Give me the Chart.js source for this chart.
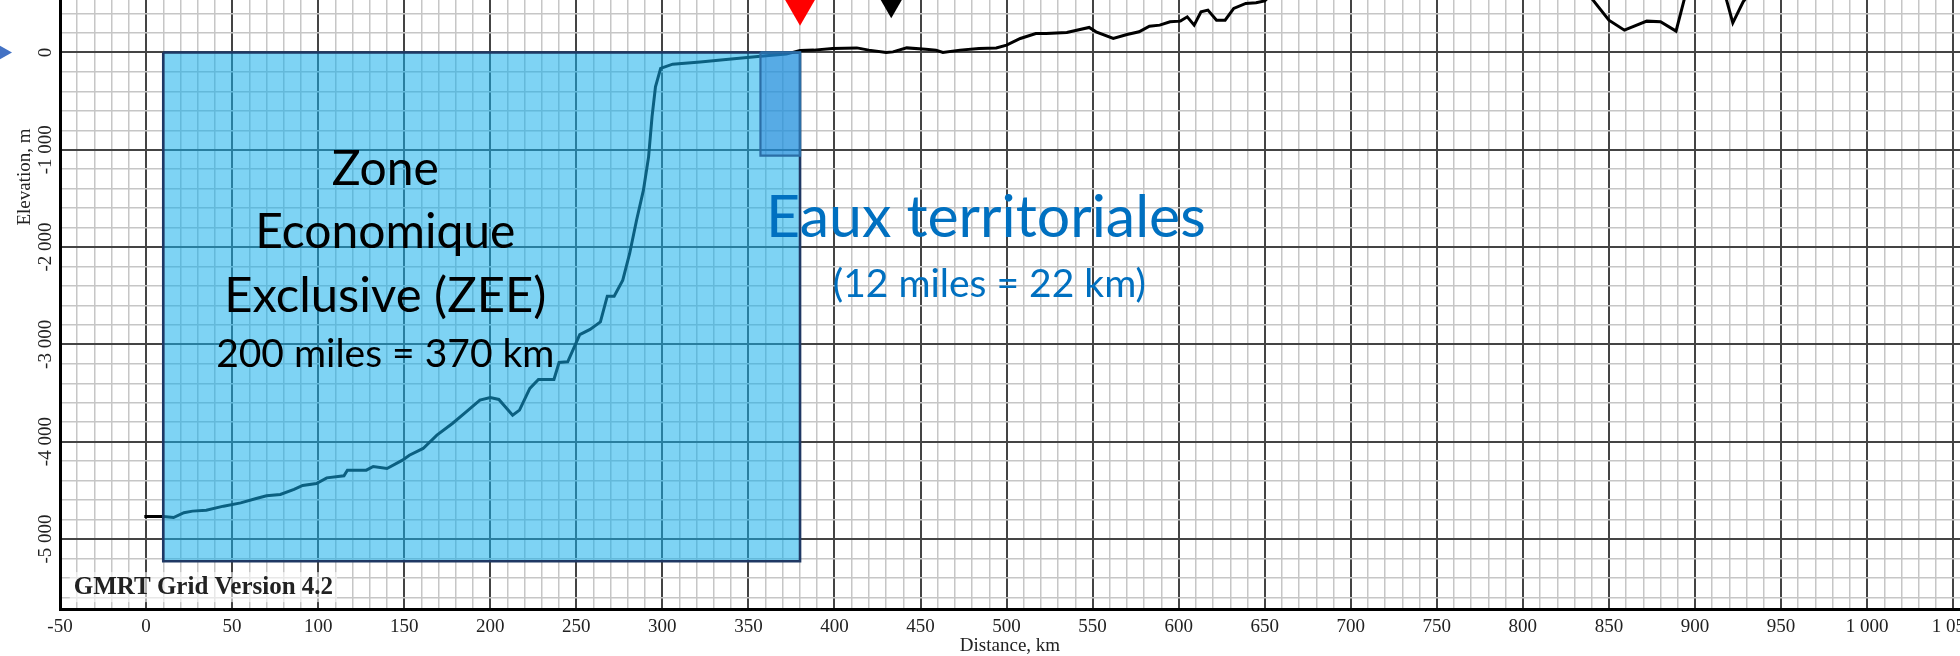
<!DOCTYPE html>
<html>
<head>
<meta charset="utf-8">
<script src="https://cdn.jsdelivr.net/npm/chart.js@4.4.1/dist/chart.umd.min.js"></script>
<style>
html,body{margin:0;padding:0;background:#fff;overflow:hidden;width:1960px;height:656px;}
#wrap{position:absolute;left:0;top:-255px;width:1960px;height:911px;}
</style>
</head>
<body>
<div id="wrap"><canvas id="c" width="1960" height="911"></canvas></div>
<script>
// ---- data (distance in km, elevation in m) ----
const distanceKm = [-1, 10, 16, 22, 27, 35, 45, 55, 64, 70, 78, 86, 91, 99, 105, 115, 117, 128, 132, 140,
  149, 153, 161, 169, 178, 186, 194, 200, 205, 213, 217, 223, 228, 237, 240, 245, 252, 258, 264, 268,
  272, 277, 281, 285, 289, 292, 294, 296, 299, 306, 322, 337, 357, 372, 380, 388, 399, 413, 420, 430,
  434, 442, 453, 459, 463, 473, 484, 494, 500, 508, 517, 523, 535, 548, 552, 562, 570, 577, 583, 589,
  595, 601, 605, 609, 613, 617, 622, 627, 632, 639, 645, 650, 660, 700, 750, 800, 830, 838, 850, 859,
  872, 880, 889, 894, 900, 912, 918, 922, 928, 940, 1000, 1054];
const elevationM = [-4770, -4770, -4780, -4730, -4714, -4704, -4663, -4629, -4584, -4557, -4543, -4491, -4450, -4430, -4372, -4351, -4293, -4293, -4255, -4276,
  -4190, -4139, -4070, -3933, -3813, -3694, -3573, -3546, -3566, -3728, -3676, -3453, -3361, -3361, -3186, -3180, -2900, -2847, -2769, -2505,
  -2505, -2340, -2066, -1724, -1415, -1073, -662, -354, -164, -120, -97, -72, -38, -17, 20, 24, 41, 47, 24, 0,
  6, 47, 34, 24, 0, 24, 41, 47, 75, 144, 195, 195, 206, 257, 212, 144, 185, 212, 270, 281,
  315, 322, 366, 281, 417, 435, 332, 332, 452, 504, 510, 530, 700, 900, 1000, 900, 700, 600, 332, 229,
  322, 315, 219, 560, 820, 700, 560, 304, 520, 800, 1200, 1300];

// zones
const zeeKm = [10, 380];          // 200 miles = 370 km
const zeeDepthM = -5230;
const territorialKm = [357, 380]; // 12 miles = 22 km
const territorialDepthM = -1060;

// markers (triangles)
const markerKm = [380, 433];
const markerElevM = [469, 486];

// axes
const xMin = -50, xMax = 1054, xStep = 10, xLabelStep = 50;
const yMin = -5720, yMax = 3160, yStep = 200, yLabelStep = 1000;

// ---- helpers ----
const fmt = v => (v < 0 ? '-' : '') + String(Math.abs(Math.round(v))).replace(/\B(?=(\d{3})+(?!\d))/g, ' ');
const isMult = (v, m) => Math.abs(v / m - Math.round(v / m)) < 1e-6;
const pts = (xs, ys) => xs.map((x, i) => ({x, y: ys[i]}));
const rectPath = (xs, d) => [{x: xs[0], y: 0}, {x: xs[1], y: 0}, {x: xs[1], y: d}, {x: xs[0], y: d}, {x: xs[0], y: 0}];

const serif = 'Liberation Serif';
const MAJOR = '#444', MINOR = '#c6c6c6';

const annotations = [
  {text: 'Zone', km: 139, elev: -1364, font: '48px Lato', color: '#000'},
  {text: 'Economique', km: 139, elev: -2011, font: '48px Lato', color: '#000'},
  {text: 'Exclusive (ZEE)', km: 139, elev: -2669, font: '49px Lato', color: '#000'},
  {text: '200 miles = 370 km', km: 139, elev: -3231, font: '39px Lato', color: '#000'},
  {text: 'Eaux territoriales', km: 488, elev: -1898, font: '59px Lato', color: '#0070C0'},
  {text: '(12 miles = 22 km)', km: 490, elev: -2512, font: '39px Lato', color: '#0070C0'},
  {text: 'GMRT Grid Version 4.2', km: -42, elev: -5567, font: 'bold 25px "Liberation Serif"', color: '#222', align: 'left', box: true}
];

const annotationPlugin = {
  id: 'annot',
  afterDatasetsDraw(chart) {
    const {ctx, scales: {x, y}} = chart;
    ctx.save();
    ctx.textBaseline = 'alphabetic';
    annotations.forEach(a => {
      ctx.font = a.font;
      ctx.textAlign = a.align || 'center';
      const px = x.getPixelForValue(a.km), py = y.getPixelForValue(a.elev);
      if (a.box) {
        const w = ctx.measureText(a.text).width;
        ctx.fillStyle = 'rgba(255,255,255,0.6)';
        ctx.fillRect(px - 4, py - 22, w + 8, 30);
      }
      ctx.fillStyle = a.color;
      ctx.fillText(a.text, px, py);
    });
    // blue sea-level arrow at left edge
    const y0 = y.getPixelForValue(0);
    ctx.fillStyle = '#4472C4';
    ctx.beginPath();
    ctx.moveTo(12, y0);
    ctx.lineTo(-10, y0 - 12.5);
    ctx.lineTo(-10, y0 + 12.5);
    ctx.closePath();
    ctx.fill();
    ctx.restore();
  }
};

new Chart(document.getElementById('c'), {
  type: 'line',
  data: {
    datasets: [
      {label: 'markers-red', data: pts([markerKm[0]], [markerElevM[0]]), showLine: false,
        pointStyle: 'triangle', rotation: 180, pointRadius: 19, backgroundColor: '#ff0000', borderWidth: 0, order: 0},
      {label: 'markers-black', data: pts([markerKm[1]], [markerElevM[1]]), showLine: false,
        pointStyle: 'triangle', rotation: 180, pointRadius: 13, backgroundColor: '#000', borderWidth: 0, order: 0},
      {label: 'terr-outline', data: rectPath(territorialKm, territorialDepthM), borderColor: '#2b6ea6', borderWidth: 2.2,
        pointRadius: 0, fill: false, order: 1},
      {label: 'terr-fill', data: pts(territorialKm, [0, 0]), borderWidth: 0, pointRadius: 0,
        fill: {value: territorialDepthM}, backgroundColor: 'rgba(40,125,210,0.45)', order: 2},
      {label: 'zee-outline', data: rectPath(zeeKm, zeeDepthM), borderColor: '#1f3864', borderWidth: 2.6,
        pointRadius: 0, fill: false, order: 3},
      {label: 'zee-fill', data: pts(zeeKm, [0, 0]), borderWidth: 0, pointRadius: 0,
        fill: {value: zeeDepthM}, backgroundColor: 'rgba(20,175,235,0.55)', order: 4},
      {label: 'profile', data: pts(distanceKm, elevationM), borderColor: '#000', borderWidth: 3,
        pointRadius: 0, fill: false, order: 5}
    ]
  },
  options: {
    responsive: false,
    devicePixelRatio: 1,
    animation: false,
    events: [],
    layout: {padding: 0, autoPadding: false},
    plugins: {legend: {display: false}, tooltip: {enabled: false}},
    scales: {
      x: {
        type: 'linear', min: xMin, max: xMax,
        grid: {drawTicks: false,
          color: c => isMult(c.tick.value, xLabelStep) ? MAJOR : MINOR,
          lineWidth: c => isMult(c.tick.value, xLabelStep) ? 2 : 1.5},
        border: {display: true, color: '#000', width: 3},
        ticks: {stepSize: xStep, autoSkip: false, includeBounds: false, maxRotation: 0, minRotation: 0,
          padding: 7, color: '#222', font: {family: serif, size: 19},
          callback: v => isMult(v, xLabelStep) ? fmt(v) : ''},
        title: {display: true, text: 'Distance, km', color: '#222', font: {family: serif, size: 19},
          padding: {top: 0, bottom: -1}},
        afterFit: s => { s.height = 47; s.paddingLeft = 0; s.paddingRight = 0; }
      },
      y: {
        type: 'linear', min: yMin, max: yMax,
        grid: {drawTicks: false,
          color: c => isMult(c.tick.value, yLabelStep) ? MAJOR : MINOR,
          lineWidth: c => isMult(c.tick.value, yLabelStep) ? 2 : 1.5},
        border: {display: true, color: '#000', width: 3},
        ticks: {stepSize: yStep, autoSkip: false, includeBounds: false, minRotation: 90, maxRotation: 90,
          crossAlign: 'center', padding: -11, color: '#222', font: {family: serif, size: 19},
          callback: v => isMult(v, yLabelStep) ? fmt(v) : ''},
        title: {display: true, text: 'Elevation, m', color: '#222', font: {family: serif, size: 19},
          padding: {top: 14, bottom: 0}},
        afterFit: s => { s.width = 60; s.paddingTop = 0; s.paddingBottom = 0; }
      }
    }
  },
  plugins: [annotationPlugin]
});
</script>
</body>
</html>
